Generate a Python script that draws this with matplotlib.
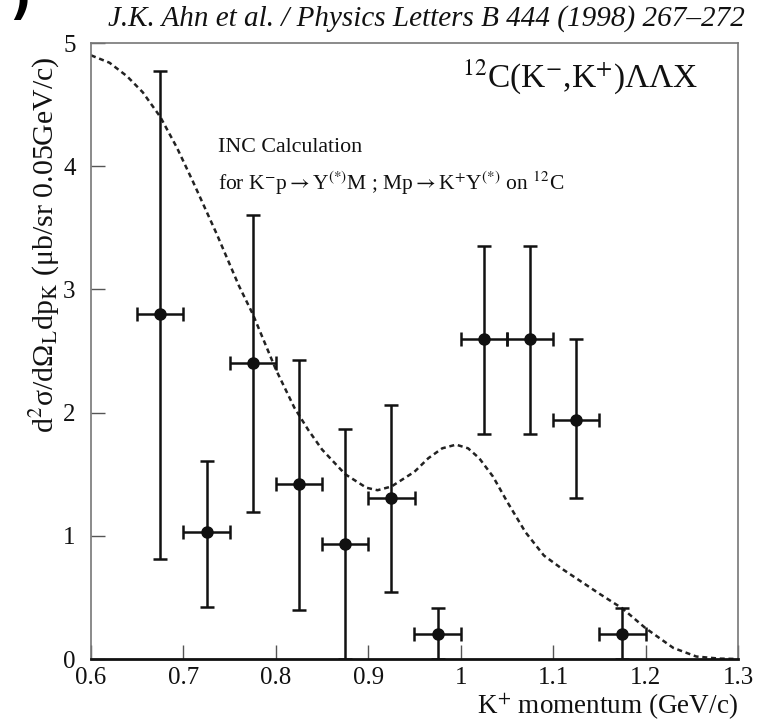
import matplotlib
matplotlib.use('Agg')
import matplotlib.pyplot as plt
import numpy as np

plt.rcParams['font.family'] = ['Liberation Serif', 'DejaVu Serif']
plt.rcParams['mathtext.fontset'] = 'stix'

# data points (K+ momentum bins) with asymmetric errors
p_k = [0.675, 0.725, 0.775, 0.825, 0.875, 0.925, 0.975, 1.025, 1.075, 1.125, 1.175]
xs = [2.80, 1.03, 2.40, 1.42, 0.93, 1.31, 0.20, 2.60, 2.60, 1.94, 0.20]
err_hi = [4.77, 1.61, 3.60, 2.43, 1.87, 2.06, 0.41, 3.35, 3.35, 2.60, 0.41]
err_lo = [0.81, 0.42, 1.19, 0.40, 0.00, 0.54, 0.00, 1.83, 1.83, 1.31, 0.00]
bin_half = 0.025

# INC calculation (dashed curve)
inc_p = [0.600, 0.620, 0.639, 0.656, 0.675, 0.693, 0.710, 0.736, 0.760, 0.775,
         0.800, 0.820, 0.835, 0.850, 0.875, 0.898, 0.910, 0.925, 0.950, 0.965,
         0.980, 0.995, 1.008, 1.020, 1.035, 1.050, 1.070, 1.090, 1.110, 1.130,
         1.150, 1.175, 1.200, 1.230, 1.255, 1.280, 1.300]
inc_xs = [4.90, 4.84, 4.73, 4.60, 4.40, 4.15, 3.88, 3.45, 3.03, 2.80,
          2.35, 2.04, 1.86, 1.70, 1.50, 1.39, 1.37, 1.40, 1.52, 1.63,
          1.71, 1.74, 1.71, 1.63, 1.48, 1.28, 1.03, 0.84, 0.73, 0.63,
          0.53, 0.41, 0.25, 0.09, 0.02, 0.003, 0.0]

xticks = [0.6, 0.7, 0.8, 0.9, 1.0, 1.1, 1.2, 1.3]
yticks = [0, 1, 2, 3, 4, 5]

fig = plt.figure(figsize=(7.65, 7.25), dpi=100)
ax = fig.add_axes([91 / 765, 66 / 725, 647 / 765, 616 / 725])

ax.plot(inc_p, inc_xs, color='#222222', lw=1.8, linestyle=(0, (2.0, 1.5)))

yerr = [np.array(xs) - np.array(err_lo), np.array(err_hi) - np.array(xs)]
ax.errorbar(p_k, xs, yerr=yerr, xerr=bin_half, fmt='o', color='#111111',
            ms=8, lw=1.8, capsize=5, capthick=1.8)

ax.set_xlim(0.6, 1.3)
ax.set_ylim(0, 5)
ax.set_xticks(xticks)
ax.set_xticklabels(['%g' % t for t in xticks])
ax.set_yticks(yticks)
ax.set_yticklabels([str(t) for t in yticks])
ax.tick_params(direction='in', length=10, width=1, colors='#555555',
               labelcolor='#111111', labelsize=18)
ax.tick_params(axis='x', pad=6)
ax.tick_params(axis='y', pad=11)
for s in ['left', 'top', 'right']:
    ax.spines[s].set_color('#777777')
    ax.spines[s].set_linewidth(1.2)
ax.spines['bottom'].set_color('#111111')
ax.spines['bottom'].set_linewidth(2)

ax.text(0.756, 0.946, r'$^{12}$C(K$^{-}$,K$^{+}$)ΛΛX', transform=ax.transAxes,
        fontsize=24, ha='center', va='center', color='#111111')
ax.text(0.197, 0.83, 'INC Calculation', transform=ax.transAxes, fontsize=15.8,
        ha='left', va='center', color='#111111')
ax.text(0.197, 0.773,
        r'for K$^{-}$p$\rightarrow$Y$^{(*)}$M ; Mp$\rightarrow$K$^{+}$Y$^{(*)}$ on $^{12}$C',
        transform=ax.transAxes, fontsize=15.5, ha='left', va='center', color='#111111')

fig.text(426 / 765, 1 - 19 / 725, 'J.K. Ahn et al. / Physics Letters B 444 (1998) 267\u2013272',
         fontsize=21, style='italic', ha='center', va='center', color='#111111')
fig.text(45 / 765, 1 - 245 / 725,
         r'd$^{2}$σ/dΩ$_{\mathrm{L}}$dp$_{\mathrm{K}}$ (μb/sr 0.05GeV/c)',
         rotation=90, fontsize=21.5, ha='center', va='center', color='#111111')
fig.text(738 / 765, 1 - 707 / 725, r'K$^{+}$ momentum (GeV/c)', fontsize=19.5,
         ha='right', va='center', color='#111111')
fig.text(20 / 765, 1 - 2 / 725, ')', fontsize=34, fontweight='bold',
         family='DejaVu Sans', ha='center', va='center', color='black')

fig.savefig('out.png', dpi=100)
plt.close(fig)
print('Saved: out.png')
